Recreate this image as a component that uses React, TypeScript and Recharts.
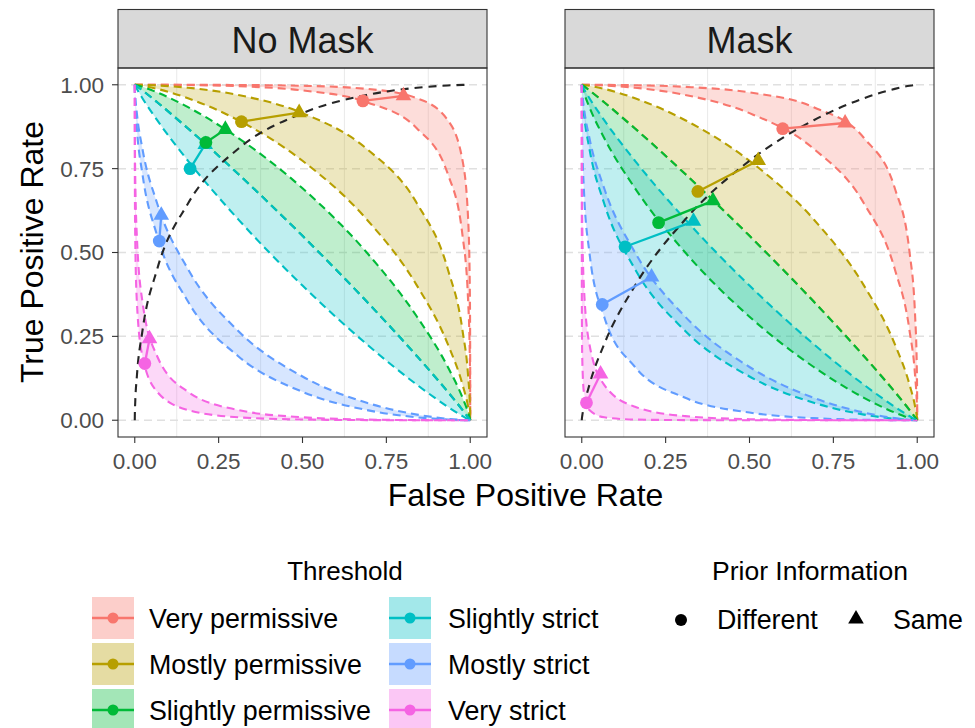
import React from 'react';
import { ComposedChart, Area, Line, Scatter, XAxis, YAxis, CartesianGrid } from 'recharts';

const FONT = '"Liberation Sans", Arial, Helvetica, sans-serif';

const panelNames = ['No Mask', 'Mask'];
const thresholdNames = ['Very permissive', 'Mostly permissive', 'Slightly permissive', 'Slightly strict', 'Mostly strict', 'Very strict'];
const thresholdColors = ['#F8766D', '#B79F00', '#00BA38', '#00BFC4', '#619CFF', '#F564E3'];
const priorNames = ['Different', 'Same'];

const xTicks = [0, 0.25, 0.5, 0.75, 1];
const yTicks = [0, 0.25, 0.5, 0.75, 1];
const minorXTicks = [0.125, 0.375, 0.625, 0.875];
const DOMAIN: [number, number] = [-0.05, 1.05];

// False positive rates at which the band boundaries were read
const fprGrid = [0, 0.0002, 0.0013, 0.0062, 0.0228, 0.0668, 0.1587, 0.3085, 0.5, 0.6915, 0.8413, 0.9332, 0.9772, 0.9938, 0.9987, 0.9998, 1];

// ---- No Mask: band boundaries (true positive rate) ----
const nmVeryPermLow = [1, 1, 1, 1, 1, 0.9999, 0.9991, 0.9957, 0.9832, 0.9479, 0.8697, 0.734, 0.5497, 0.3538, 0.1908, 0.0846, 0];
const nmVeryPermHigh = [1, 1, 1, 1, 1, 1, 0.9999, 0.9994, 0.997, 0.9878, 0.9599, 0.8944, 0.7734, 0.5987, 0.4013, 0.2266, 0];
const nmMostPermLow = [1, 1, 0.9999, 0.9994, 0.997, 0.9878, 0.9599, 0.8944, 0.7734, 0.5987, 0.4013, 0.2266, 0.1056, 0.0401, 0.0122, 0.003, 0];
const nmMostPermHigh = [1, 1, 1, 1, 0.9996, 0.998, 0.9912, 0.9696, 0.9154, 0.8092, 0.6462, 0.4503, 0.266, 0.1303, 0.0521, 0.0168, 0];
const nmSlightPermLow = [1, 0.9999, 0.9991, 0.9957, 0.9832, 0.9479, 0.8697, 0.734, 0.5497, 0.3538, 0.1908, 0.0846, 0.0304, 0.0088, 0.002, 0.0004, 0];
const nmSlightPermHigh = [1, 1, 0.9998, 0.9987, 0.9938, 0.9772, 0.9332, 0.8413, 0.6915, 0.5, 0.3085, 0.1587, 0.0668, 0.0228, 0.0062, 0.0013, 0];
const nmSlightStrictLow = [1, 0.9994, 0.997, 0.9878, 0.9599, 0.8944, 0.7734, 0.5987, 0.4013, 0.2266, 0.1056, 0.0401, 0.0122, 0.003, 0.0006, 0.0001, 0];
const nmSlightStrictHigh = [1, 0.9999, 0.9991, 0.9957, 0.9832, 0.9479, 0.8697, 0.734, 0.5497, 0.3538, 0.1908, 0.0846, 0.0304, 0.0088, 0.002, 0.0004, 0];
const nmMostStrictLow = [1, 0.9832, 0.9479, 0.8697, 0.734, 0.5497, 0.3538, 0.1908, 0.0846, 0.0304, 0.0088, 0.002, 0.0004, 0, 0, 0, 0];
const nmMostStrictHigh = [1, 0.9912, 0.9696, 0.9154, 0.8092, 0.6462, 0.4503, 0.266, 0.1303, 0.0521, 0.0168, 0.0043, 0.0009, 0.0001, 0, 0, 0];
const nmVeryStrictLow = [1, 0.734, 0.5497, 0.3538, 0.1908, 0.0846, 0.0304, 0.0088, 0.002, 0.0004, 0, 0, 0, 0, 0, 0, 0];
const nmVeryStrictHigh = [1, 0.8697, 0.734, 0.5497, 0.3538, 0.1908, 0.0846, 0.0304, 0.0088, 0.002, 0.0004, 0, 0, 0, 0, 0, 0];

// ---- Mask: band boundaries (true positive rate) ----
const mVeryPermLow = [1, 1, 1, 1, 0.9996, 0.998, 0.9912, 0.9696, 0.9154, 0.8092, 0.6462, 0.4503, 0.266, 0.1303, 0.0521, 0.0168, 0];
const mVeryPermHigh = [1, 1, 1, 1, 1, 0.9998, 0.9987, 0.9938, 0.9772, 0.9332, 0.8413, 0.6915, 0.5, 0.3085, 0.1587, 0.0668, 0];
const mMostPermLow = [1, 0.9999, 0.9991, 0.9957, 0.9832, 0.9479, 0.8697, 0.734, 0.5497, 0.3538, 0.1908, 0.0846, 0.0304, 0.0088, 0.002, 0.0004, 0];
const mMostPermHigh = [1, 1, 0.9999, 0.9994, 0.997, 0.9878, 0.9599, 0.8944, 0.7734, 0.5987, 0.4013, 0.2266, 0.1056, 0.0401, 0.0122, 0.003, 0];
const mSlightPermLow = [1, 0.9987, 0.9938, 0.9772, 0.9332, 0.8413, 0.6915, 0.5, 0.3085, 0.1587, 0.0668, 0.0228, 0.0062, 0.0013, 0.0002, 0, 0];
const mSlightPermHigh = [1, 0.9999, 0.9991, 0.9957, 0.9832, 0.9479, 0.8697, 0.734, 0.5497, 0.3538, 0.1908, 0.0846, 0.0304, 0.0088, 0.002, 0.0004, 0];
const mSlightStrictLow = [1, 0.9912, 0.9696, 0.9154, 0.8092, 0.6462, 0.4503, 0.266, 0.1303, 0.0521, 0.0168, 0.0043, 0.0009, 0.0001, 0, 0, 0];
const mSlightStrictHigh = [1, 0.9994, 0.997, 0.9878, 0.9599, 0.8944, 0.7734, 0.5987, 0.4013, 0.2266, 0.1056, 0.0401, 0.0122, 0.003, 0.0006, 0.0001, 0];
const mMostStrictLow = [1, 0.9332, 0.8413, 0.6915, 0.5, 0.3085, 0.1587, 0.0668, 0.0228, 0.0062, 0.0013, 0.0002, 0, 0, 0, 0, 0];
const mMostStrictHigh = [1, 0.9938, 0.9772, 0.9332, 0.8413, 0.6915, 0.5, 0.3085, 0.1587, 0.0668, 0.0228, 0.0062, 0.0013, 0.0002, 0, 0, 0];
const mVeryStrictLow = [1, 0.3538, 0.1908, 0.0846, 0.0304, 0.0088, 0.002, 0.0004, 0, 0, 0, 0, 0, 0, 0, 0, 0];
const mVeryStrictHigh = [1, 0.7734, 0.5987, 0.4013, 0.2266, 0.1056, 0.0401, 0.0122, 0.003, 0.0006, 0.0001, 0, 0, 0, 0, 0, 0];

// ---- Black dashed ROC curves ----
const nmRocTpr = [0, 0.0168, 0.0521, 0.1303, 0.266, 0.4503, 0.6462, 0.8092, 0.9154, 0.9696, 0.9912, 0.998, 0.9996, 1, 1, 1, 1];
const mRocTpr = [0, 0.003, 0.0122, 0.0401, 0.1056, 0.2266, 0.4013, 0.5987, 0.7734, 0.8944, 0.9599, 0.9878, 0.997, 0.9994, 0.9999, 1, 1];

// ---- Points (order follows thresholdNames) ----
const nmDifferentFpr = [0.68, 0.318, 0.212, 0.165, 0.073, 0.03];
const nmDifferentTpr = [0.952, 0.89, 0.828, 0.75, 0.534, 0.169];
const nmSameFpr = [0.801, 0.49, 0.27, 0.21, 0.079, 0.044];
const nmSameTpr = [0.967, 0.917, 0.867, 0.822, 0.611, 0.243];
const mDifferentFpr = [0.599, 0.346, 0.229, 0.129, 0.061, 0.014];
const mDifferentTpr = [0.869, 0.682, 0.589, 0.517, 0.345, 0.052];
const mSameFpr = [0.785, 0.526, 0.391, 0.333, 0.208, 0.056];
const mSameTpr = [0.886, 0.774, 0.654, 0.593, 0.427, 0.138];

const tickFmt = (v: number) => v.toFixed(2);

function vGen(args: any) {
  const o = args && args.offset;
  if (!o) return [];
  return minorXTicks.map((v) => o.left + ((v - DOMAIN[0]) / (DOMAIN[1] - DOMAIN[0])) * o.width);
}
function hGen(args: any) {
  const o = args && args.offset;
  if (!o) return [];
  return yTicks.map((v) => o.top + ((DOMAIN[1] - v) / (DOMAIN[1] - DOMAIN[0])) * o.height);
}

const TRI = 5.8;
function triPoints(cx: number, cy: number, s: number) {
  return `${cx},${cy - 1.555 * s} ${cx + 1.347 * s},${cy + 0.778 * s} ${cx - 1.347 * s},${cy + 0.778 * s}`;
}
const circleShape = (p: any) => <circle cx={p.cx} cy={p.cy} r={6.4} fill={p.payload.color} />;
const triangleShape = (p: any) => <polygon points={triPoints(p.cx, p.cy, TRI)} fill={p.payload.color} />;

const DASH = '8 5';
const DASH_W = 2.1;

function Panel(props: any) {
  const { left, width, showY, lows, highs, roc, dF, dT, sF, sT } = props;
  const bands = thresholdNames.map((name, i) => ({
    name,
    color: thresholdColors[i],
    rows: fprGrid.map((x, j) => ({ x, lo: lows[i][j], hi: highs[i][j], range: [lows[i][j], highs[i][j]] })),
  }));
  const rocRows = fprGrid.map((x, j) => ({ x, y: roc[j] }));
  const diffRows = thresholdNames.map((n, i) => ({ x: dF[i], y: dT[i], color: thresholdColors[i] }));
  const sameRows = thresholdNames.map((n, i) => ({ x: sF[i], y: sT[i], color: thresholdColors[i] }));
  const tickStyle = { fontSize: 22.5, fill: '#4D4D4D', fontFamily: FONT };
  return (
    <div style={{ position: 'absolute', left, top: 0 }}>
      <ComposedChart width={width} height={480} margin={{ top: 68, right: 13, bottom: 0, left: 0 }}>
        <CartesianGrid horizontal={false} stroke="#EBEBEB" strokeWidth={1.1} verticalCoordinatesGenerator={vGen} />
        <CartesianGrid vertical={false} stroke="#E0E0E0" strokeWidth={1.5} strokeDasharray="8 5" horizontalCoordinatesGenerator={hGen} />
        <XAxis type="number" dataKey="x" domain={DOMAIN} allowDataOverflow ticks={xTicks} interval={0}
          tickFormatter={tickFmt} tick={tickStyle} tickLine={{ stroke: '#333333', strokeWidth: 1.1 }}
          axisLine={false} tickSize={6} tickMargin={10} height={43} />
        <YAxis type="number" domain={DOMAIN} allowDataOverflow ticks={yTicks} interval={0}
          tickFormatter={tickFmt} tick={showY ? tickStyle : false}
          tickLine={showY ? { stroke: '#333333', strokeWidth: 1.1 } : false}
          axisLine={false} tickSize={6} tickMargin={8} width={118} />
        {bands.map((b) => (
          <Area key={'area-' + b.name} data={b.rows} dataKey="range" type="monotone" stroke="none"
            fill={b.color} fillOpacity={0.25} isAnimationActive={false} dot={false} activeDot={false} legendType="none" />
        ))}
        {bands.map((b) => (
          <Line key={'lo-' + b.name} data={b.rows} dataKey="lo" type="monotone" stroke={b.color} strokeWidth={DASH_W}
            strokeDasharray={DASH} dot={false} activeDot={false} isAnimationActive={false} legendType="none" />
        ))}
        {bands.map((b) => (
          <Line key={'hi-' + b.name} data={b.rows} dataKey="hi" type="monotone" stroke={b.color} strokeWidth={DASH_W}
            strokeDasharray={DASH} dot={false} activeDot={false} isAnimationActive={false} legendType="none" />
        ))}
        <Line data={rocRows} dataKey="y" type="monotone" stroke="#262626" strokeWidth={DASH_W} strokeDasharray="8 6"
          dot={false} activeDot={false} isAnimationActive={false} legendType="none" />
        {thresholdNames.map((n, i) => (
          <Line key={'conn-' + n} data={[diffRows[i], sameRows[i]]} dataKey="y" type="linear" stroke={thresholdColors[i]}
            strokeWidth={2.3} dot={false} activeDot={false} isAnimationActive={false} legendType="none" />
        ))}
        <Scatter data={sameRows} dataKey="y" shape={triangleShape} isAnimationActive={false} legendType="none" />
        <Scatter data={diffRows} dataKey="y" shape={circleShape} isAnimationActive={false} legendType="none" />
      </ComposedChart>
    </div>
  );
}

function Overlay() {
  const strips = [
    { x: 118, w: 369, label: panelNames[0] },
    { x: 565, w: 369, label: panelNames[1] },
  ];
  const LBL = 26.8;
  return (
    <svg width={975} height={728} style={{ position: 'absolute', left: 0, top: 0, pointerEvents: 'none' }}
      fontFamily={FONT}>
      {strips.map((s) => (
        <g key={s.label}>
          <rect x={s.x} y={9.5} width={s.w} height={58.5} fill="#D9D9D9" stroke="#333333" strokeWidth={1.1} />
          <text x={s.x + s.w / 2} y={53} fontSize={36} textAnchor="middle" fill="#1A1A1A">{s.label}</text>
          <rect x={s.x} y={68} width={s.w} height={369} fill="none" stroke="#333333" strokeWidth={1.1} />
        </g>
      ))}
      <text transform="translate(43,252) rotate(-90)" fontSize={32} textAnchor="middle" fill="#000">True Positive Rate</text>
      <text x={525.5} y={506} fontSize={32} textAnchor="middle" fill="#000">False Positive Rate</text>

      <text x={345} y={580} fontSize={26} textAnchor="middle" fill="#000">Threshold</text>
      {thresholdNames.map((n, i) => {
        const col = i < 3 ? 0 : 1;
        const row = i % 3;
        const kx = col === 0 ? 92 : 389;
        const ky = 597 + row * 46;
        const lx = col === 0 ? 149 : 448;
        const c = thresholdColors[i];
        return (
          <g key={'leg-' + n}>
            <rect x={kx} y={ky} width={42} height={42} fill={c} fillOpacity={0.36} />
            <line x1={kx} x2={kx + 42} y1={ky + 21} y2={ky + 21} stroke={c} strokeWidth={2.5} />
            <circle cx={kx + 21} cy={ky + 21} r={5.5} fill={c} />
            <text x={lx} y={ky + 30.5} fontSize={LBL} fill="#000">{n}</text>
          </g>
        );
      })}

      <text x={810} y={580} fontSize={26.5} textAnchor="middle" fill="#000">Prior Information</text>
      <circle cx={681} cy={620} r={6} fill="#000" />
      <text x={717} y={628.5} fontSize={LBL} fill="#000">{priorNames[0]}</text>
      <polygon points={triPoints(856, 619, TRI)} fill="#000" />
      <text x={893} y={628.5} fontSize={LBL} fill="#000">{priorNames[1]}</text>
    </svg>
  );
}

export default function App() {
  return (
    <div style={{ position: 'absolute', left: 0, top: 0, width: 975, height: 728, background: '#fff', overflow: 'hidden', fontFamily: FONT }}>
      <Panel left={0} width={500} showY
        lows={[nmVeryPermLow, nmMostPermLow, nmSlightPermLow, nmSlightStrictLow, nmMostStrictLow, nmVeryStrictLow]}
        highs={[nmVeryPermHigh, nmMostPermHigh, nmSlightPermHigh, nmSlightStrictHigh, nmMostStrictHigh, nmVeryStrictHigh]}
        roc={nmRocTpr} dF={nmDifferentFpr} dT={nmDifferentTpr} sF={nmSameFpr} sT={nmSameTpr} />
      <Panel left={447} width={500} showY={false}
        lows={[mVeryPermLow, mMostPermLow, mSlightPermLow, mSlightStrictLow, mMostStrictLow, mVeryStrictLow]}
        highs={[mVeryPermHigh, mMostPermHigh, mSlightPermHigh, mSlightStrictHigh, mMostStrictHigh, mVeryStrictHigh]}
        roc={mRocTpr} dF={mDifferentFpr} dT={mDifferentTpr} sF={mSameFpr} sT={mSameTpr} />
      <Overlay />
    </div>
  );
}
